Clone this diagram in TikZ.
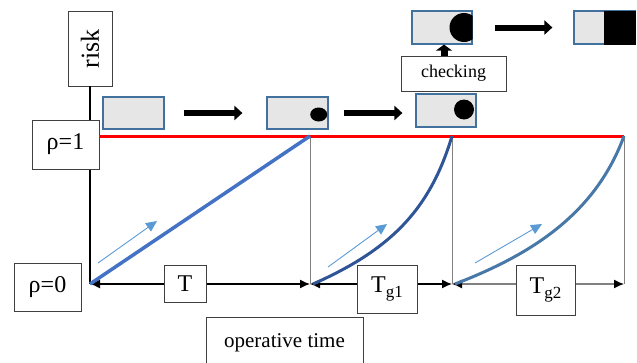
\documentclass[tikz,border=0pt]{standalone}
\usepackage{fontspec}
\usepackage{graphicx}
\setmainfont{Liberation Serif}
\usetikzlibrary{arrows.meta}
\definecolor{boxblue}{HTML}{41719C}
\definecolor{boxgray}{HTML}{E6E6E6}
\definecolor{lineblue}{HTML}{4472C4}
\definecolor{darkblue}{HTML}{2F5597}
\definecolor{steelblue}{HTML}{4878A8}
\definecolor{lightblue}{HTML}{5B9BD5}
\definecolor{axisgray}{HTML}{808080}
\definecolor{framegray}{HTML}{404040}
\begin{document}
\begin{tikzpicture}[x=1pt,y=-1pt,
  lbl/.style={draw=framegray, fill=white, line width=0.8pt, inner sep=0pt},
  state/.style={draw=boxblue, fill=boxgray, line width=1.2pt, minimum width=61pt, minimum height=32pt, inner sep=0pt},
  fat/.style={line width=6pt, -{Triangle[length=8pt,width=14pt]}},
  fatshort/.style={line width=7pt, -{Triangle[length=6pt,width=16pt]}},
  axis/.style={line width=1.3pt, {Latex[length=10pt,width=9pt,color=black]}-{Latex[length=10pt,width=9pt,color=black]}},
  vline/.style={draw=axisgray, line width=0.9pt},
  trend/.style={draw=lightblue, line width=0.9pt, -{Triangle[length=11pt,width=10pt]}},
  big/.style={font=\fontsize{24}{28}\selectfont},
  mid/.style={font=\fontsize{21}{25}\selectfont},
  small/.style={font=\fontsize{18}{22}\selectfont}
]
\useasboundingbox (0,0) rectangle (637,362);

% coordinates
\coordinate (O) at (90,284);
\coordinate (P1) at (310,284);
\coordinate (P2) at (452,284);
\coordinate (P3) at (624,284);
\coordinate (Q1) at (310,136);
\coordinate (Q2) at (452,136);
\coordinate (Q3) at (624,136);
\coordinate (S1) at (313,284);
\coordinate (S2) at (455,284);
\coordinate (a1s) at (98,263);
\coordinate (a1e) at (157,221);
\coordinate (a2s) at (328,267);
\coordinate (a2e) at (387,224);
\coordinate (a3s) at (475,263);
\coordinate (a3e) at (542,224);

% axis label
\node[lbl, font=\fontsize{26}{30}\selectfont, minimum width=44pt, minimum height=75pt] (risk) at (90,48.5) {\raisebox{-4pt}{\rotatebox{90}{risk}}};

% vertical axis
\draw[line width=1.3pt] (risk.south) -- (O);

% horizontal axis
\draw[axis] (O) -- (P1);
\draw[axis] (P1) -- (P2);
\draw[axis, draw=axisgray] (P2) -- (P3);

% vertical guide lines
\draw[vline] (P1) -- (Q1);
\draw[vline] (P2) -- (Q2);
\draw[vline] (P3) -- (Q3);

\node[lbl, big, minimum width=67pt, minimum height=49pt] (rho1) at (65.5,144.5) {ρ=1};
\node[lbl, big, minimum width=67pt, minimum height=48pt] (rho0) at (47.5,287) {ρ=0};

% red limit line
\draw[red, line width=3pt] (rho1.east |- Q1) -- (Q3);

% risk curves
\draw[lineblue, line width=3.5pt] (O) -- (Q1);
\draw[darkblue, line width=3pt] (S1) .. controls (390,250) and (430,210) .. (Q2);
\draw[steelblue, line width=3pt] (S2) .. controls (530,255) and (595,215) .. (Q3);

% trend arrows
\draw[trend] (a1s) -- (a1e);
\draw[trend] (a2s) -- (a2e);
\draw[trend] (a3s) -- (a3e);

% interval labels
\node[lbl, big, minimum width=42pt, minimum height=37pt] (T) at (185,283.5) {T};
\node[lbl, big, minimum width=60pt, minimum height=48pt] (Tg1) at (387,289) {T\raisebox{-5pt}{\fontsize{17}{20}\selectfont g1}};
\node[lbl, big, minimum width=59pt, minimum height=50pt] (Tg2) at (545.5,290) {T\raisebox{-5pt}{\fontsize{17}{20}\selectfont g2}};
\node[lbl, mid, minimum width=157pt, minimum height=50pt, anchor=north] (optime) at (284.5,317) {operative time};

% state boxes
\node[state] (A) at (133.5,113) {};
\node[state] (B) at (297.5,113) {};
\node[state, minimum width=60pt, minimum height=33pt] (C) at (446,110.5) {};
\node[state, minimum width=60pt, minimum height=33pt] (D) at (442,27.5) {};
\node[state, minimum width=61pt, minimum height=33pt] (E) at (604.5,27.5) {};
\node[lbl, small, minimum width=105pt, minimum height=35pt] (check) at (453.5,73.5) {checking\hspace{12pt}};

% defects
\fill[black] (318.7,114.5) ellipse [x radius=8.5pt, y radius=7pt];
\fill[black] (464,109.5) circle [radius=10pt];
\begin{scope}
  \clip (D.south west) rectangle (D.north east);
  \fill[black] (464,27.5) circle [radius=14.5pt];
\end{scope}
\fill[black] (604,11) rectangle (E.south east);

% transitions
\draw[fat] ([xshift=19pt]A.east) -- ([xshift=-24pt]B.west);
\draw[fat] ([xshift=15pt]B.east) -- ([xshift=-13pt]B.east -| C.west);
\draw[fatshort] ([xshift=2pt]check.north -| D.south) -- ([xshift=2pt]D.south);
\draw[fat] ([xshift=22pt]D.east) -- ([xshift=-21pt]E.west);
\end{tikzpicture}
\end{document}
